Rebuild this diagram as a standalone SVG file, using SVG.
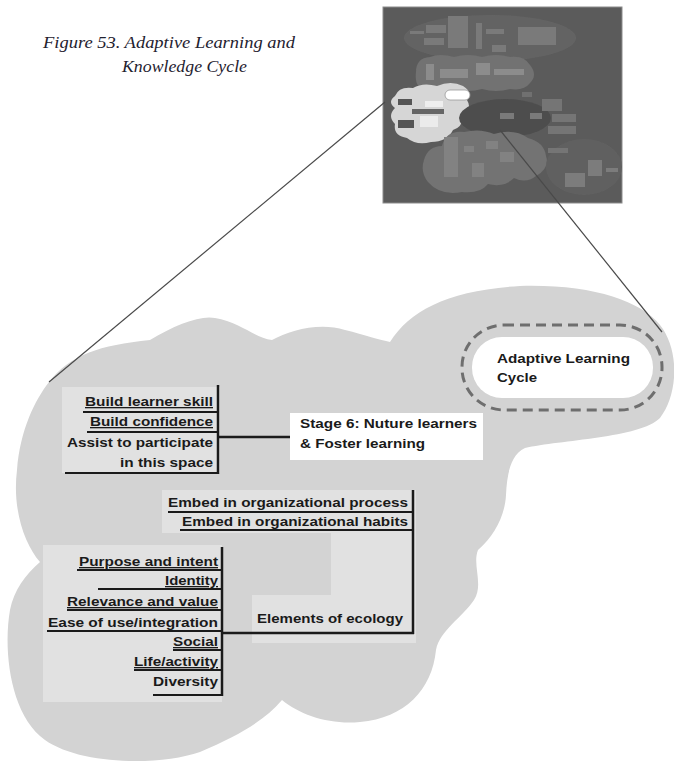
<svg xmlns="http://www.w3.org/2000/svg" width="674" height="763" viewBox="0 0 674 763">
  <style>
    .title { font-family: "Liberation Serif", "Times New Roman", serif; font-style: italic; font-size: 17px; fill: #1f2230; }
    .t { font-family: "Liberation Sans", Arial, sans-serif; font-weight: bold; font-size: 13px; fill: #1a1a1a; }
    .u { text-decoration: underline; }
    .br { stroke: #1a1a1a; stroke-width: 2; fill: none; }
    .stem { stroke: #1a1a1a; stroke-width: 2.5; fill: none; }
    .zoom { stroke: #4a4a4a; stroke-width: 1.2; fill: none; }
    .panel { fill: #e1e1e1; }
    .mini { fill: #7a7a7a; }
    .mini2 { fill: #8c8c8c; }
  </style>
  <defs>
    <filter id="soft" x="-5%" y="-5%" width="110%" height="110%">
      <feGaussianBlur stdDeviation="0.7"/>
    </filter>
  </defs>

  <rect width="674" height="763" fill="#ffffff"/>

  <!-- caption -->
  <g id="caption">
    <text class="title" x="43" y="48" textLength="252" lengthAdjust="spacingAndGlyphs">Figure 53. Adaptive Learning and</text>
    <text class="title" x="122" y="72" textLength="125" lengthAdjust="spacingAndGlyphs">Knowledge Cycle</text>
  </g>

  <!-- overview map (small) -->
  <g id="overview">
    <rect x="383" y="7" width="239" height="196" fill="#5b5b5b" stroke="#8c8c8c" stroke-width="1"/>
    <g filter="url(#soft)">
      <ellipse cx="490" cy="38" rx="86" ry="23" fill="#646464"/>
      <rect class="mini" x="410" y="31" width="14" height="3"/>
      <rect class="mini" x="426" y="25" width="20" height="8"/>
      <rect class="mini" x="424" y="38" width="20" height="7"/>
      <rect class="mini" x="448" y="16" width="20" height="32"/>
      <rect class="mini" x="476" y="23" width="6" height="26"/>
      <rect class="mini" x="486" y="29" width="18" height="5"/>
      <rect class="mini" x="492" y="45" width="14" height="7"/>
      <rect class="mini" x="518" y="27" width="38" height="18"/>
      <path d="M416,72 q0,-14 14,-15 q10,-4 24,0 q14,-4 28,0 q14,-4 28,0 q14,-2 20,8 q8,10 0,18 q-6,8 -20,6 q-14,4 -28,0 q-14,4 -28,0 q-14,4 -28,0 q-12,0 -10,-17 z" fill="#727272"/>
      <rect class="mini2" x="426" y="64" width="8" height="16"/>
      <rect class="mini2" x="440" y="69" width="28" height="9"/>
      <rect class="mini2" x="476" y="63" width="14" height="12"/>
      <rect class="mini2" x="494" y="69" width="30" height="6"/>
      <path d="M395,96 q4,-10 18,-8 q10,-6 24,-2 q14,-6 26,0 q10,6 4,14 q6,10 -6,14 q4,12 -8,16 q-6,12 -22,12 q-14,4 -24,-4 q-14,-2 -12,-14 q-8,-8 0,-16 q-8,-6 0,-12 z" fill="#d6d6d6"/>
      <rect x="445" y="90" width="25" height="10" rx="5" fill="#ffffff" stroke="#999" stroke-width="0.8"/>
      <rect x="398" y="99" width="14" height="6" fill="#555"/>
      <rect x="425" y="101" width="18" height="6" fill="#eeeeee"/>
      <rect x="412" y="109" width="32" height="5" fill="#666"/>
      <rect x="420" y="116" width="18" height="11" fill="#ebebeb"/>
      <rect x="398" y="120" width="16" height="8" fill="#555"/>
      <ellipse cx="505" cy="118" rx="46" ry="19" fill="#4e4e4e"/>
      <rect x="500" y="113" width="14" height="6" fill="#7a7a7a"/>
      <rect x="530" y="113" width="12" height="6" fill="#7a7a7a"/>
      <rect x="522" y="92" width="10" height="5" fill="#707070"/>
      <rect x="542" y="99" width="20" height="12" fill="#747474"/>
      <rect x="552" y="114" width="24" height="8" fill="#747474"/>
      <rect x="548" y="126" width="28" height="8" fill="#747474"/>
      <path d="M424,160 q4,-14 18,-14 q4,-16 22,-14 q16,-4 30,2 q20,-6 34,4 q16,4 18,18 q4,12 -10,20 q-10,8 -22,2 q-10,10 -26,6 q-8,10 -26,8 q-22,4 -34,-10 q-8,-10 -4,-22 z" fill="#737373"/>
      <rect x="444" y="137" width="14" height="40" fill="#828282"/>
      <rect x="464" y="146" width="10" height="6" fill="#828282"/>
      <rect x="486" y="141" width="12" height="8" fill="#828282"/>
      <rect x="500" y="152" width="14" height="10" fill="#828282"/>
      <rect x="472" y="163" width="12" height="14" fill="#828282"/>
      <ellipse cx="584" cy="167" rx="38" ry="28" fill="#616161"/>
      <rect x="548" y="148" width="20" height="5" fill="#747474"/>
      <rect x="565" y="173" width="20" height="14" fill="#7c7c7c"/>
      <rect x="588" y="160" width="14" height="16" fill="#7c7c7c"/>
      <rect x="606" y="168" width="12" height="4" fill="#7c7c7c"/>
    </g>
  </g>

  <!-- enlarged region -->
  <g id="region">
    <path d="M49,382 C70,355 100,345 150,340 C175,325 200,315 215,318 C240,322 255,338 272,340 C290,330 320,322 345,330 C365,335 380,340 390,342 C410,310 450,290 520,286 C590,284 640,300 660,325 C680,350 678,395 660,418 C640,438 560,440 525,448 C510,455 507,475 506,495 C505,515 495,535 478,550 C472,565 484,585 474,600 C462,618 440,630 436,650 C432,690 405,718 360,722 C330,725 300,715 282,700 C265,720 240,735 200,752 C160,766 80,765 45,740 C10,715 3,650 10,610 C14,590 25,575 40,562 C25,545 12,510 17,470 C20,430 35,400 49,382 Z" fill="#d3d3d3"/>
    <rect class="panel" x="62" y="387" width="158" height="86"/>
    <rect class="panel" x="162" y="490" width="254" height="43"/>
    <rect class="panel" x="331" y="490" width="85" height="153"/>
    <rect class="panel" x="252" y="595" width="164" height="48"/>
    <rect class="panel" x="43" y="545" width="179" height="157"/>
  </g>

  <!-- connectors -->
  <g id="connectors">
    <line class="zoom" x1="385" y1="102" x2="49" y2="382"/>
    <line class="zoom" x1="500" y1="130" x2="662" y2="332"/>
    <line class="stem" x1="218" y1="385" x2="218" y2="474"/>
    <line class="br" x1="83" y1="412" x2="218" y2="412"/>
    <line class="br" x1="87" y1="432" x2="218" y2="432"/>
    <line class="br" x1="65" y1="473" x2="219" y2="473"/>
    <line class="stem" x1="218" y1="437" x2="292" y2="437"/>
    <line class="stem" x1="413" y1="490" x2="413" y2="634"/>
    <line class="br" x1="168" y1="512" x2="413" y2="512"/>
    <line class="br" x1="180" y1="530" x2="413" y2="530"/>
    <line class="stem" x1="222" y1="633" x2="414" y2="633"/>
    <line class="stem" x1="222" y1="547" x2="222" y2="696"/>
    <line class="br" x1="77" y1="570" x2="222" y2="570"/>
    <line class="br" x1="98" y1="589" x2="222" y2="589"/>
    <line class="br" x1="67" y1="610" x2="222" y2="610"/>
    <line class="br" x1="47" y1="631" x2="222" y2="631"/>
    <line class="br" x1="173" y1="650" x2="222" y2="650"/>
    <line class="br" x1="134" y1="670" x2="222" y2="670"/>
    <line class="br" x1="153" y1="695" x2="222" y2="695"/>
  </g>

  <!-- nodes -->
  <g id="adaptive-learning-cycle">
    <rect x="462" y="325" width="200" height="85" rx="42" fill="none" stroke="#6e6e6e" stroke-width="3" stroke-dasharray="10 6"/>
    <rect x="472" y="337" width="181" height="61" rx="30" fill="#ffffff"/>
    <text class="t" x="497" y="363" textLength="133" lengthAdjust="spacingAndGlyphs">Adaptive Learning</text>
    <text class="t" x="497" y="382" textLength="40" lengthAdjust="spacingAndGlyphs">Cycle</text>
  </g>

  <g id="stage-6">
    <rect x="290" y="413" width="193" height="47" fill="#ffffff"/>
    <text class="t" x="300" y="428" textLength="177" lengthAdjust="spacingAndGlyphs">Stage 6: Nuture learners</text>
    <text class="t" x="300" y="448" textLength="125" lengthAdjust="spacingAndGlyphs">&amp; Foster learning</text>
  </g>

  <g id="build-learner-skill">
    <text class="t u" x="213" y="406" text-anchor="end" textLength="128" lengthAdjust="spacingAndGlyphs">Build learner skill</text>
  </g>
  <g id="build-confidence">
    <text class="t u" x="213" y="426" text-anchor="end" textLength="123" lengthAdjust="spacingAndGlyphs">Build confidence</text>
  </g>
  <g id="assist-to-participate">
    <text class="t" x="213" y="447" text-anchor="end" textLength="146" lengthAdjust="spacingAndGlyphs">Assist to participate</text>
    <text class="t" x="213" y="467" text-anchor="end" textLength="93" lengthAdjust="spacingAndGlyphs">in this space</text>
  </g>

  <g id="elements-of-ecology">
    <text class="t" x="257" y="623" textLength="146" lengthAdjust="spacingAndGlyphs">Elements of ecology</text>
  </g>
  <g id="embed-process">
    <text class="t" x="408" y="507" text-anchor="end" textLength="240" lengthAdjust="spacingAndGlyphs">Embed in organizational process</text>
  </g>
  <g id="embed-habits">
    <text class="t" x="408" y="526" text-anchor="end" textLength="226" lengthAdjust="spacingAndGlyphs">Embed in organizational habits</text>
  </g>
  <g id="purpose-and-intent">
    <text class="t u" x="218" y="566" text-anchor="end" textLength="139" lengthAdjust="spacingAndGlyphs">Purpose and intent</text>
  </g>
  <g id="identity">
    <text class="t u" x="218" y="585" text-anchor="end" textLength="53" lengthAdjust="spacingAndGlyphs">Identity</text>
  </g>
  <g id="relevance-and-value">
    <text class="t u" x="218" y="606" text-anchor="end" textLength="151" lengthAdjust="spacingAndGlyphs">Relevance and value</text>
  </g>
  <g id="ease-of-use">
    <text class="t" x="218" y="627" text-anchor="end" textLength="170" lengthAdjust="spacingAndGlyphs">Ease of use/integration</text>
  </g>
  <g id="social">
    <text class="t u" x="218" y="646" text-anchor="end" textLength="45" lengthAdjust="spacingAndGlyphs">Social</text>
  </g>
  <g id="life-activity">
    <text class="t u" x="218" y="666" text-anchor="end" textLength="84" lengthAdjust="spacingAndGlyphs">Life/activity</text>
  </g>
  <g id="diversity">
    <text class="t" x="218" y="686" text-anchor="end" textLength="65" lengthAdjust="spacingAndGlyphs">Diversity</text>
  </g>
</svg>
